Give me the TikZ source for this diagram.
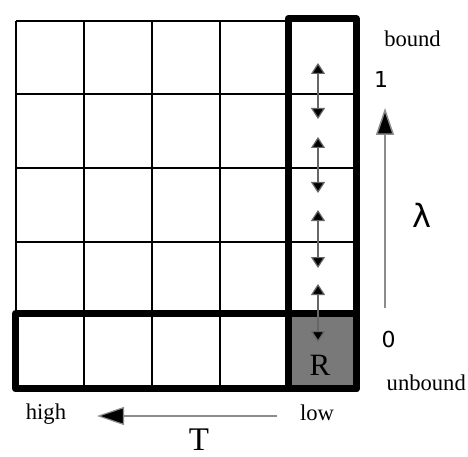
\documentclass[tikz,border=0pt]{standalone}
\usepackage{fontspec}
\setmainfont{Liberation Serif}
\newfontfamily\numfont{DejaVu Sans}
\usetikzlibrary{arrows.meta}
\begin{document}
\begin{tikzpicture}[x=1pt,y=-1pt,
  thinline/.style={line width=2pt,black},
  thickframe/.style={line width=7pt,black,line join=round},
  lbl/.style={inner sep=0pt,anchor=base,font=\fontsize{22.6}{26}\selectfont},
  num/.style={inner sep=0pt,anchor=base,font=\numfont\fontsize{22}{26}\selectfont},
  swap/.style={draw=gray!80!black,line width=1.2pt,{Triangle[length=11pt,width=14pt,fill=black]}-{Triangle[length=11pt,width=14pt,fill=black]}},
  axis/.style={draw=gray!90,line width=1.5pt,-{Triangle[length=27pt,width=18pt,fill=black]}}]
\useasboundingbox (0,0) rectangle (468,457);
% gray receptor cell
\node[fill=gray!95!black,minimum width=68pt,minimum height=75.8pt,inner sep=0pt,anchor=north west] (Rcell) at (288,313) {};
\node[inner sep=0pt,anchor=base,font=\fontsize{31}{34}\selectfont] (R) at (320,375) {R};
% thin grid
\foreach \x in {16,84,152,220,288,356}
  \draw[thinline] (\x,20.7) -- (\x,388.8);
\foreach \y in {20.7,94.3,167.9,241.5,315.1,388.8}
  \draw[thinline] (16,\y) -- (356,\y);
% thick frames
\draw[thickframe] (288,18.5) rectangle (356,388.8);
\draw[thickframe] (15.5,313.5) rectangle (356,388.8);
% double arrows
\foreach \i/\a/\b in {1/63/119,2/137/193,3/210/268,4/284/342}{
  \coordinate (u\i) at (318,\a);
  \coordinate (d\i) at (318,\b);
  \draw[swap] (u\i) -- (d\i);
}
% lambda axis
\coordinate (l0) at (385,308);
\coordinate (l1) at (385,108);
\draw[axis] (l0) -- (l1);
% T axis
\coordinate (t0) at (277,416);
\coordinate (t1) at (97,416);
\draw[axis,line width=1.2pt] (t0) -- (t1);
% labels
\node[lbl] (bound) at (412.5,46.7) {bound};
\node[lbl,anchor=base west] (unbound) at (386.5,390.5) {unbound};
\node[num] (one) at (381,88) {1};
\node[num] (zero) at (388.5,347) {0};
\node[inner sep=0pt,anchor=base,font=\numfont\fontsize{32}{36}\selectfont] (lam) at (422,227) {λ};
\node[lbl] (high) at (46,419) {high};
\node[lbl] (low) at (317,420) {low};
\node[inner sep=0pt,anchor=base,font=\fontsize{33}{36}\selectfont] (T) at (199,450) {T};
\end{tikzpicture}
\end{document}
